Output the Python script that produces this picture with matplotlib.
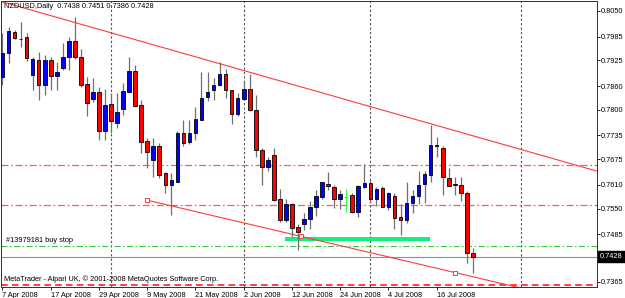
import matplotlib
matplotlib.use("Agg")  # sin pantalla

import matplotlib.pyplot as plt
from matplotlib.patches import Rectangle
from matplotlib.transforms import blended_transform_factory
import pandas as pd

# Velas diarias NZDUSD, una por dia habil desde 7 Apr 2008
aperturas = [0.7883, 0.7943, 0.7998, 0.7980, 0.7985, 0.7888, 0.7926, 0.7863, 0.7926, 0.7886,
             0.7905, 0.7933, 0.7975, 0.7933, 0.7865, 0.7827, 0.7844, 0.7745, 0.7815, 0.7767,
             0.7801, 0.7844, 0.7898, 0.7812, 0.7721, 0.7673, 0.7709, 0.7639, 0.7610, 0.7618,
             0.7742, 0.7719, 0.7742, 0.7774, 0.7833, 0.7850, 0.7863, 0.7891, 0.7850, 0.7789,
             0.7827, 0.7852, 0.7800, 0.7698, 0.7654, 0.7686, 0.7573, 0.7520, 0.7562, 0.7503,
             0.7511, 0.7523, 0.7555, 0.7579, 0.7612, 0.7604, 0.7574, 0.7580, 0.7585, 0.7542,
             0.7604, 0.7614, 0.7574, 0.7601, 0.7553, 0.7582, 0.7528, 0.7521, 0.7564, 0.7582,
             0.7612, 0.7635, 0.7711, 0.7703, 0.7628, 0.7611, 0.7610, 0.7590, 0.7438]
maximos = [0.7994, 0.8010, 0.8002, 0.8023, 0.7994, 0.7934, 0.7947, 0.7939, 0.7934, 0.7922,
           0.7968, 0.7985, 0.8036, 0.7953, 0.7882, 0.7880, 0.7857, 0.7852, 0.7842, 0.7843,
           0.7867, 0.7934, 0.7913, 0.7825, 0.7728, 0.7728, 0.7716, 0.7643, 0.7639, 0.7745,
           0.7773, 0.7773, 0.7806, 0.7896, 0.7896, 0.7880, 0.7920, 0.7903, 0.7851, 0.7842,
           0.7869, 0.7891, 0.7838, 0.7703, 0.7681, 0.7703, 0.7599, 0.7573, 0.7565, 0.7511,
           0.7538, 0.7568, 0.7597, 0.7618, 0.7643, 0.7610, 0.7597, 0.7599, 0.7589, 0.7610,
           0.7663, 0.7622, 0.7604, 0.7606, 0.7593, 0.7589, 0.7562, 0.7618, 0.7597, 0.7646,
           0.7646, 0.7762, 0.7732, 0.7707, 0.7652, 0.7631, 0.7631, 0.7595, 0.7451]
minimos = [0.7863, 0.7918, 0.7978, 0.7960, 0.7924, 0.7850, 0.7825, 0.7838, 0.7850, 0.7850,
           0.7901, 0.7901, 0.7928, 0.7857, 0.7783, 0.7820, 0.7724, 0.7724, 0.7741, 0.7753,
           0.7787, 0.7842, 0.7808, 0.7690, 0.7652, 0.7631, 0.7628, 0.7590, 0.7534, 0.7616,
           0.7707, 0.7714, 0.7724, 0.7773, 0.7821, 0.7825, 0.7859, 0.7829, 0.7764, 0.7783,
           0.7825, 0.7798, 0.7681, 0.7610, 0.7646, 0.7568, 0.7517, 0.7517, 0.7479, 0.7444,
           0.7496, 0.7498, 0.7530, 0.7574, 0.7597, 0.7551, 0.7548, 0.7542, 0.7538, 0.7528,
           0.7601, 0.7565, 0.7557, 0.7553, 0.7545, 0.7498, 0.7483, 0.7514, 0.7538, 0.7562,
           0.7564, 0.7618, 0.7681, 0.7585, 0.7606, 0.7585, 0.7568, 0.7413, 0.7386]
cierres = [0.7944, 0.8000, 0.7981, 0.7979, 0.7930, 0.7928, 0.7863, 0.7926, 0.7886, 0.7896,
           0.7934, 0.7975, 0.7933, 0.7862, 0.7817, 0.7844, 0.7745, 0.7812, 0.7772, 0.7795,
           0.7848, 0.7898, 0.7810, 0.7719, 0.7692, 0.7707, 0.7635, 0.7610, 0.7622, 0.7742,
           0.7717, 0.7742, 0.7776, 0.7829, 0.7846, 0.7863, 0.7891, 0.7850, 0.7789, 0.7829,
           0.7852, 0.7800, 0.7698, 0.7654, 0.7673, 0.7572, 0.7521, 0.7562, 0.7500, 0.7490,
           0.7523, 0.7555, 0.7582, 0.7616, 0.7606, 0.7574, 0.7587, 0.7580, 0.7542, 0.7606,
           0.7614, 0.7574, 0.7599, 0.7553, 0.7590, 0.7526, 0.7521, 0.7565, 0.7582, 0.7610,
           0.7638, 0.7711, 0.7709, 0.7631, 0.7607, 0.7610, 0.7590, 0.7437, 0.7428]

# Niveles y objetos dibujados en el grafico
precio_actual = 0.7428
niveles_rojos = [0.7659, 0.7558]
nivel_orden = 0.7456          # buy stop
nivel_inferior = 0.7357
zona_verde = [46.9, 70.9, 0.7468, 0.7479]    # x0, x1, y0, y1
tendencia_sup = [(6.0, 0.8047), (98.5, 0.7645)]
tendencia_inf = [(24.0, 0.7571), (75.0, 0.7388)]
separadores = [18, 40, 61, 86]
precios_eje = [0.8050, 0.7985, 0.7925, 0.7860, 0.7800, 0.7735, 0.7675,
               0.7610, 0.7550, 0.7485, 0.7365]

fechas = pd.bdate_range("2008-04-07", periods=len(cierres))
etiquetas_idx = list(range(0, len(cierres), 8))
etiquetas_txt = [f"{fechas[i].day} {fechas[i].strftime('%b %Y')}" for i in etiquetas_idx]

plt.rcParams['font.family'] = ['Liberation Sans', 'DejaVu Sans']
fs = 5.3

fig = plt.figure(figsize=(6.25, 2.98), dpi=100)
ax = fig.add_axes([0.0008, 11 / 298, 596 / 625, 286 / 298])
ax.set_xlim(-0.33, 98.5)
ax.set_ylim(0.73513, 0.80753)

# separadores verticales
for s in separadores:
    ax.axvline(s, color="#505050", lw=0.8, ls=(0, (2, 2)), zorder=1)

# lineas horizontales
for n in niveles_rojos:
    ax.axhline(n, color="#ff5a5a", lw=0.9, ls=(0, (5.5, 2.2, 1.4, 2.2)), zorder=1)
ax.axhline(nivel_orden, color="#3cc83c", lw=0.8, ls=(0, (5.5, 2.2, 1.4, 2.2)), zorder=1)
ax.axhline(precio_actual, color="#8090a8", lw=0.8, zorder=1)
ax.axhline(nivel_inferior, color="#ff2020", lw=1.2, ls=(0, (4, 2.5)), zorder=1)

# zona verde
x0, x1, y0, y1 = zona_verde
ax.add_patch(Rectangle((x0, y0), x1 - x0, y1 - y0, facecolor="#14f07c",
                       edgecolor="none", zorder=2))

# lineas de tendencia
(xa, ya), (xb, yb) = tendencia_sup
ax.plot([-1, xb], [ya + (yb - ya) / (xb - xa) * (-1 - xa), yb], color="#ff3a3a", lw=0.8, zorder=2)
(xa, ya), (xb, yb) = tendencia_inf
pend = (yb - ya) / (xb - xa)
ax.plot([xa, 100], [ya, ya + pend * (100 - xa)], color="#ff3a3a", lw=0.8, zorder=2)
ax.plot([xa, (xa + xb) / 2, xb], [ya, (ya + yb) / 2, yb], ls="none", marker="s",
        ms=3, mfc="white", mec="#ff3a3a", mew=0.7, zorder=6)

# velas
for i, (o, h, l, c) in enumerate(zip(aperturas, maximos, minimos, cierres)):
    if o == c:
        ax.vlines(i, l, h, color="#33ff33", lw=0.9, zorder=3)
        ax.hlines(o, i - 0.35, i + 0.35, color="#33ff33", lw=0.9, zorder=3)
        continue
    ax.vlines(i, l, h, color="#707070", lw=0.9, zorder=3)
    color = "#0000ff" if c > o else "#ff0000"
    ax.add_patch(Rectangle((i - 0.3, min(o, c)), 0.6, abs(c - o),
                           facecolor=color, edgecolor="black", lw=0.6, zorder=4))

# ejes al estilo MetaTrader
ax.yaxis.tick_right()
ax.set_yticks(precios_eje)
ax.set_yticklabels([f"{p:.4f}" for p in precios_eje])
ax.set_xticks(etiquetas_idx)
ax.set_xticklabels(etiquetas_txt, ha="left")
ax.tick_params(axis="both", labelsize=fs, length=2.2, width=0.6, pad=1.2, color="black")
for sp in ax.spines.values():
    sp.set_linewidth(0.7)
    sp.set_color("#303030")

trans = blended_transform_factory(ax.transAxes, ax.transData)
ax.text(1.006, precio_actual, f"{precio_actual:.4f}", transform=trans, fontsize=fs,
        color="white", va="center", ha="left",
        bbox=dict(boxstyle="square,pad=0.25", facecolor="black", edgecolor="black"))

fig.text(4 / 625, 1 - 7 / 298, "NZDUSD,Daily  0.7438 0.7451 0.7386 0.7428",
         fontsize=fs, va="center", ha="left")
fig.text(6 / 625, 1 - 241 / 298, "#13979181 buy stop", fontsize=fs, va="center", ha="left")
fig.text(4 / 625, 1 - 279 / 298,
         "MetaTrader - Alpari UK, \u00a9 2001-2008 MetaQuotes Software Corp.",
         fontsize=fs, va="center", ha="left")

fig.savefig("out.png", dpi=100)
